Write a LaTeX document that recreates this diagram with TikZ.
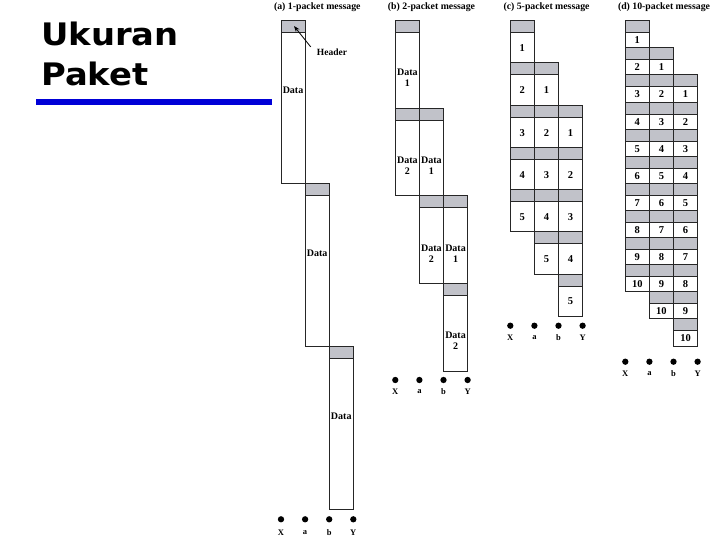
\documentclass[tikz,border=0pt]{standalone}
\usepackage{fontspec}
\setmainfont{Liberation Serif}
\newfontfamily\headfont{DejaVu Sans}
\usetikzlibrary{arrows.meta}
\definecolor{hdrgray}{RGB}{193,194,201}
\definecolor{rulblue}{RGB}{0,0,215}
\tikzset{
  hdrcell/.style={fill=hdrgray, draw=black!85, line width=0.8pt},
  datacell/.style={draw=black!85, line width=0.8pt},
  celltext/.style={font=\bfseries\fontsize{10}{11}\selectfont, align=center, inner sep=0pt},
  numtext/.style={font=\bfseries\fontsize{10.5}{11}\selectfont, align=center, inner sep=0pt},
  coltitle/.style={font=\bfseries\fontsize{9.8}{11}\selectfont, inner sep=0pt},
  nodedot/.style={circle, fill=black, inner sep=0pt, minimum size=6.3pt},
  nodelbl/.style={font=\bfseries\fontsize{8.5}{9}\selectfont, inner sep=0pt},
  bigtitle/.style={font=\headfont\bfseries\fontsize{31}{36}\selectfont, inner sep=0pt, anchor=base west},
}
% #1 name, #2 x0, #3 col, #4 row, #5 period, #6 label offset, #7 text, #8 text style
\newcommand\pktcell[8]{%
  \pgfmathsetmacro\pkcx{#2+#3*24.1}%
  \pgfmathsetmacro\pkcy{20.7+#4*#5}%
  \draw[hdrcell] (\pkcx,\pkcy) rectangle ++(24.1,12);
  \draw[datacell] (\pkcx,{\pkcy+12}) rectangle ({\pkcx+24.1},{\pkcy+#5});
  \node[#8] (#1) at ({\pkcx+12.05},{\pkcy+#6}) {#7};
}
% #1 prefix, #2 x0, #3 dot y, #4 label y
\newcommand\stationrow[4]{%
  \foreach \k/\lb in {0/X,1/a,2/b,3/Y}{%
    \node[nodedot] (#1dot\k) at ({#2+\k*24.1},#3) {};
    \node[nodelbl] (#1lbl\k) at ({#2+\k*24.1},#4) {\lb};
  }
}
\begin{document}
\begin{tikzpicture}[x=1pt,y=-1pt]
\useasboundingbox (0,0) rectangle (720,540);
% title
\node[bigtitle] (t1) at (41,45.7) {\scalebox{1.09}[1]{Ukuran}};
\node[bigtitle] (t2) at (41,86) {\scalebox{1.09}[1]{Paket}};
\coordinate (bl) at (36,102);
\coordinate (br) at (271.7,102);
\draw[rulblue, line width=6pt] (bl) -- (br);
% (a)
\node[coltitle] (ta) at (317.3,7) {(a) 1-packet message};
\pktcell{a0}{281}{0}{0}{162.9}{70}{Data}{celltext}
\pktcell{a1}{281}{1}{1}{162.9}{70}{Data}{celltext}
\pktcell{a2}{281}{2}{2}{162.9}{70}{Data}{celltext}
\stationrow{a}{281}{519.3}{532.7}
\node[font=\bfseries\fontsize{9.5}{10}\selectfont, inner sep=0pt] (hdrlbl) at (332,52) {Header};
\coordinate (hdrtip) at (294,26);
\draw[-{Stealth[length=6pt,width=4.5pt]}, line width=0.8pt] ([xshift=-6pt,yshift=1.5pt]hdrlbl.north west) -- (hdrtip);
% (b)
\node[coltitle] (tb) at (431.5,7) {(b) 2-packet message};
\pktcell{b00}{395.3}{0}{0}{87.6}{57.5}{Data\\1}{celltext}
\pktcell{b10}{395.3}{0}{1}{87.6}{57.5}{Data\\2}{celltext}
\pktcell{b11}{395.3}{1}{1}{87.6}{57.5}{Data\\1}{celltext}
\pktcell{b21}{395.3}{1}{2}{87.6}{57.5}{Data\\2}{celltext}
\pktcell{b22}{395.3}{2}{2}{87.6}{57.5}{Data\\1}{celltext}
\pktcell{b32}{395.3}{2}{3}{87.6}{57.5}{Data\\2}{celltext}
\stationrow{b}{395.3}{380}{391.7}
% (c)
\node[coltitle] (tc) at (546.5,7) {(c) 5-packet message};
\foreach \r in {0,...,6}{\foreach \c in {0,1,2}{%
  \pgfmathtruncatemacro\pkn{\r-\c+1}%
  \ifnum\pkn>0 \ifnum\pkn<6 \pktcell{c\r\c}{510.3}{\c}{\r}{42.2}{27.5}{\pkn}{numtext}\fi\fi
}}
\stationrow{c}{510.3}{325.7}{337.7}
% (d)
\node[coltitle] (td) at (664,7) {(d) 10-packet message};
\foreach \r in {0,...,11}{\foreach \c in {0,1,2}{%
  \pgfmathtruncatemacro\pkn{\r-\c+1}%
  \ifnum\pkn>0 \ifnum\pkn<11 \pktcell{d\r\c}{625.3}{\c}{\r}{27.1}{19.6}{\pkn}{numtext}\fi\fi
}}
\stationrow{d}{625.3}{361.7}{373.3}
\end{tikzpicture}
\end{document}
